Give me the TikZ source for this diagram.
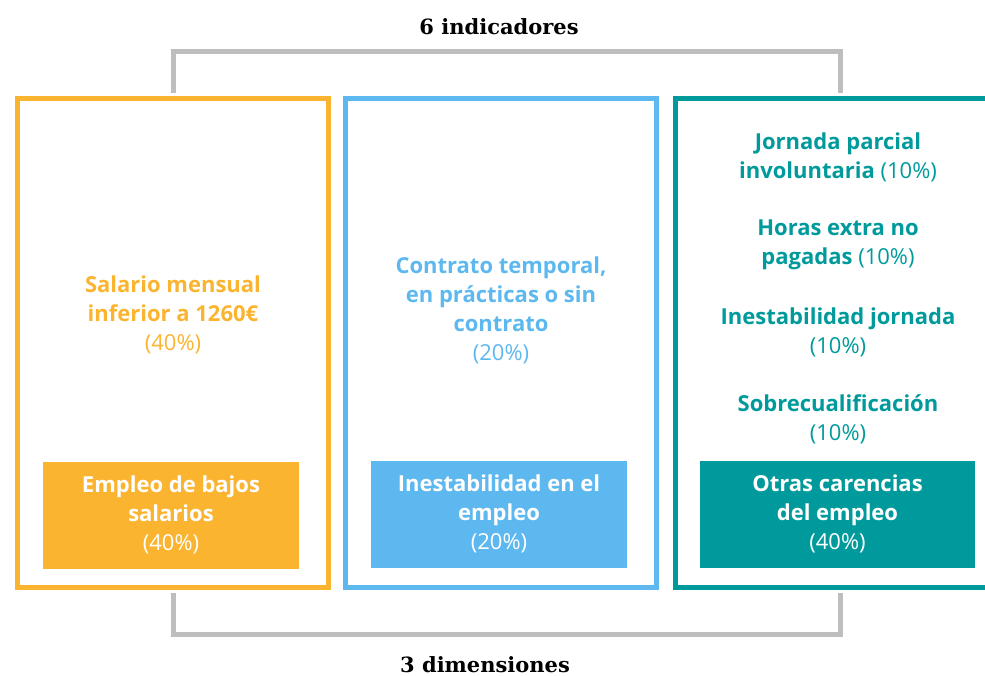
\documentclass[tikz,border=0pt]{standalone}
\usepackage{fontspec}
\setmainfont{Open Sans}
\newfontfamily\slabfont{DejaVu Serif}

\definecolor{naranja}{HTML}{FBB430}
\definecolor{celeste}{HTML}{5EB8F0}
\definecolor{verdeazul}{HTML}{009A9C}
\definecolor{gris}{HTML}{BEBEBE}

\begin{document}
\begin{tikzpicture}[x=1pt,y=-1pt]
%%%%%%%%%%%%%%%%%%%%%%%%%%%%%%%%%%%%%%%%%%%%%%%%%%%%%%%%
% STYLE
\tikzstyle{marco}=[rectangle,draw,line width=5.5pt,minimum width=311pt,minimum height=489pt,inner sep=0pt]
\tikzstyle{etiqueta}=[rectangle,fill,minimum width=256pt,minimum height=107pt,inner sep=0pt,text=white]
\tikzstyle{txt}=[align=center,font=\fontsize{22}{29}\selectfont\bfseries]
\tikzstyle{titulo}=[font=\slabfont\bfseries\fontsize{21}{25}\selectfont]

\tikzset{llave/.style={draw=gris,line width=5pt,shorten <=2.75pt,shorten >=2.75pt}}

\path[use as bounding box,clip] (0,0) rectangle (985,676);
%%%%%%%%%%%%%%%%%%%%%%%%%%%%%%%%%%%%%%%%%%%%%%%%%%%%%%%%
% NODES
\node[marco,draw=naranja] (salario) at (173,343) {};
\node[marco,draw=celeste] (temporal) at (501,343) {};
\node[marco,draw=verdeazul,minimum width=330pt] (carencias) at (840.5,343) {};

\node[txt,text=naranja] (mensual) at (173,315) {Salario mensual\\inferior a 1260€\\{\mdseries(40\%)}};
\node[txt,text=celeste] (contrato) at (501,310) {Contrato temporal,\\en prácticas o sin\\contrato\\{\mdseries(20\%)}};

\node[txt,text=verdeazul] (parcial) at (838,157) {Jornada parcial\\involuntaria {\mdseries(10\%)}};
\node[txt,text=verdeazul] (horas) at (838,245) {Horas extra no\\pagadas {\mdseries(10\%)}};
\node[txt,text=verdeazul] (jornada) at (838,332) {Inestabilidad jornada\\{\mdseries(10\%)}};
\node[txt,text=verdeazul] (sobre) at (838,419) {Sobrecualificación\\{\mdseries(10\%)}};

\node[etiqueta,txt,fill=naranja] (bajos) at (171,515) {Empleo de bajos\\salarios\\{\mdseries(40\%)}};
\node[etiqueta,txt,fill=celeste] (inestable) at (499,514) {Inestabilidad en el\\empleo\\{\mdseries(20\%)}};
\node[etiqueta,txt,fill=verdeazul,minimum width=275pt] (otras) at (837.5,514) {Otras carencias\\del empleo\\{\mdseries(40\%)}};

\node[titulo] (indicadores) at (499,27) {6 indicadores};
\node[titulo] (dimensiones) at (485,665) {3 dimensiones};
%%%%%%%%%%%%%%%%%%%%%%%%%%%%%%%%%%%%%%%%%%%%%%%%%%%%%%%%
% LINKS
\draw[llave] (salario.north) -- ++(0,-44) -| (carencias.north);
\draw[llave] (salario.south) -- ++(0,44) -| (carencias.south);
\end{tikzpicture}
\end{document}
